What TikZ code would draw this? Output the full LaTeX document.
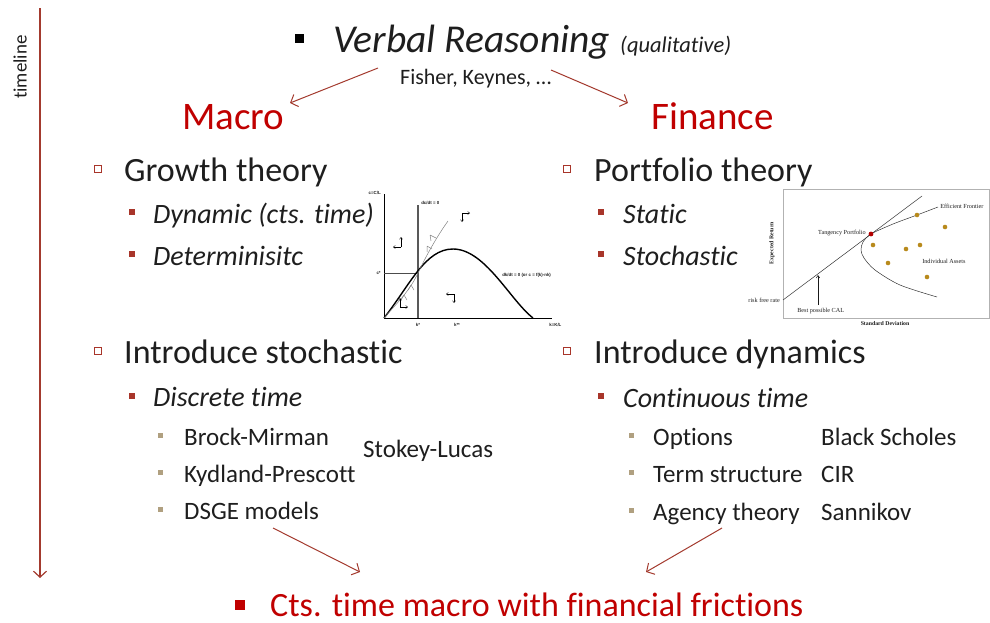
\documentclass[tikz,border=0pt]{standalone}
\usepackage{fontspec}
\setmainfont{Carlito}[Ligatures={NoCommon,NoContextual}]
\newfontfamily\serifgraph{Liberation Serif}
\newfontfamily\sansgraph{Liberation Sans}
\usetikzlibrary{arrows.meta}

\definecolor{headred}{HTML}{C00000}
\definecolor{arrred}{HTML}{A33A2E}
\definecolor{bulred}{HTML}{A8352A}
\definecolor{bultan}{HTML}{B0A080}
\definecolor{textgray}{HTML}{1E1E1E}
\definecolor{dotgold}{HTML}{B88A1C}

\newcommand{\fsz}[1]{\fontsize{#1}{#1}\selectfont}

\tikzset{
  every node/.style={inner sep=0pt, text=textgray},
  lone/.style={anchor=base west, font=\fsz{34}},
  ltwo/.style={anchor=base west, font=\fsz{28}\itshape},
  lthree/.style={anchor=base west, font=\fsz{25}},
  headtxt/.style={anchor=base west, font=\fsz{39}, text=headred},
  bulone/.style={draw=bulred, line width=1.2pt, minimum size=7pt},
  bultwo/.style={fill=bulred, minimum size=5.5pt},
  bulthree/.style={fill=bultan, minimum size=5pt},
  link/.style={draw=arrred, line width=1pt, -{Straight Barb[length=6pt,width=13pt]}},
  gtiny/.style={font=\sansgraph\bfseries\fsz{4.4}},
  gsmall/.style={font=\serifgraph\fsz{6.2}},
}

\begin{document}
\begin{tikzpicture}[x=1pt, y=-1pt]

\useasboundingbox (0,0) rectangle (990,622);

\coordinate (ttop) at (40,8);
\coordinate (tbot) at (40,578);
\draw[link, line width=1.2pt] (ttop) -- (tbot);
\node (timeline) at (20,67) [rotate=90, font=\fsz{19}] {timeline};

\node (verbbul) at (299,38) [fill=black, minimum size=9pt] {};
\node (verbal) at (333,52) [anchor=base west, font=\fsz{39.5}\itshape] {Verbal Reasoning};
\node (qual) at (620,52) [anchor=base west, font=\fsz{22.5}\itshape] {(qualitative)};
\node (fisher) at (400,84) [anchor=base west, font=\fsz{22}] {Fisher, Keynes, \dots};

\coordinate (fl) at (378,68);
\coordinate (fr) at (551,70);
\coordinate (macroin) at (290,103);
\coordinate (finin) at (628,103);
\draw[link] (fl) -- (macroin);
\draw[link] (fr) -- (finin);

\node (macro) at (182,129.5) [headtxt] {Macro};
\node (finance) at (651,129.5) [headtxt] {Finance};

\node (gb) at (98,169) [bulone] {};
\node (growth) at (124,181) [lone] {Growth theory};
\node (db) at (132,212) [bultwo] {};
\node (dynamic) at (153,223) [ltwo] {Dynamic (cts. time)};
\node (deb) at (132,254) [bultwo] {};
\node (determ) at (153,265) [ltwo] {Determinisitc};

\node (isb) at (98,351) [bulone] {};
\node (introstoch) at (124,363) [lone] {Introduce stochastic};
\node (dtb) at (132,396) [bultwo] {};
\node (discrete) at (153,406) [ltwo] {Discrete time};
\node (bmb) at (160,435) [bulthree] {};
\node (brock) at (184,445) [lthree] {Brock-Mirman};
\node (kpb) at (160,472) [bulthree] {};
\node (kydland) at (184,482) [lthree] {Kydland-Prescott};
\node (dsb) at (160,509) [bulthree] {};
\node (dsge) at (184,519) [lthree] {DSGE models};
\node (stokey) at (363,457) [lthree] {Stokey-Lucas};

\node (pb) at (567,169) [bulone] {};
\node (portfolio) at (594,181) [lone] {Portfolio theory};
\node (sb) at (601,212) [bultwo] {};
\node (static) at (623,223) [ltwo] {Static};
\node (stb) at (601,254) [bultwo] {};
\node (stoch) at (623,265) [ltwo] {Stochastic};

\node (idb) at (567,351) [bulone] {};
\node (introdyn) at (594,363) [lone] {Introduce dynamics};
\node (ctb) at (601,396) [bultwo] {};
\node (contin) at (623,407) [ltwo] {Continuous time};
\node (ob) at (631,435) [bulthree] {};
\node (options) at (653,445) [lthree] {Options};
\node (tsb) at (631,472) [bulthree] {};
\node (term) at (653,482) [lthree] {Term structure};
\node (ab) at (631,510) [bulthree] {};
\node (agency) at (653,520) [lthree] {Agency theory};
\node (black) at (821,445) [lthree] {Black Scholes};
\node (cir) at (821,482) [lthree] {CIR};
\node (sannikov) at (821,520) [lthree] {Sannikov};

\coordinate (ml) at (273,528);
\coordinate (mr) at (722,528);
\coordinate (cl) at (360,572);
\coordinate (cr) at (646,572);
\draw[link] (ml) -- (cl);
\draw[link] (mr) -- (cr);

\node (ctsb) at (240,605) [fill=headred, minimum size=10pt] {};
\node (cts) at (270,616) [anchor=base west, font=\fsz{34}, text=headred] {Cts. time macro with financial frictions};

\begin{scope}[line width=0.6pt]

\draw (384,194) -- (384,318) -- (552,318);

\draw[line width=1.2pt, gray!70!black] (418,205) -- (418,318);

\draw[gray!60!black] (384,273) -- (418,273);

\draw[line width=1.4pt] (384,318) .. controls (410,285) and (425,249) .. (453,249) .. controls (485,249) and (510,300) .. (533,318);

\draw[gray, line width=0.5pt] (384,318) .. controls (400,300) and (410,290) .. (418,273) .. controls (428,252) and (438,235) .. (448,221);

\draw[gray, line width=0.5pt] (430,235) -- (436,238) (430,235) -- (431,241);
\draw[gray, line width=0.5pt] (427,246) -- (432,249) (427,246) -- (427,252);
\draw[gray, line width=0.5pt] (404,295) -- (401,300) (404,295) -- (407,300);
\draw[gray, line width=0.5pt] (411,285) -- (408,290) (411,285) -- (414,290);

\draw[-{Straight Barb[length=2pt,width=3pt]}, line width=0.4pt] (401,247) -- (401,237);
\draw[-{Straight Barb[length=2pt,width=3pt]}, line width=0.4pt] (401,247) -- (393,247);
\draw[-{Straight Barb[length=2pt,width=3pt]}, line width=0.4pt] (462,213) -- (470,213);
\draw[-{Straight Barb[length=2pt,width=3pt]}, line width=0.4pt] (462,213) -- (462,222);
\draw[-{Straight Barb[length=2pt,width=3pt]}, line width=0.4pt] (454,294) -- (446,294);
\draw[-{Straight Barb[length=2pt,width=3pt]}, line width=0.4pt] (454,294) -- (454,303);
\draw[-{Straight Barb[length=2pt,width=3pt]}, line width=0.4pt] (400,307) -- (408,307);
\draw[-{Straight Barb[length=2pt,width=3pt]}, line width=0.4pt] (400,307) -- (400,298);

\node (cl1) at (381,193) [gtiny, anchor=east] {c=C/L};
\node (dcdt) at (421,203) [gtiny, anchor=west] {dc/dt = 0};
\node (cstar) at (381,273) [gtiny, anchor=east] {c*};
\node (kstar) at (418,325) [gtiny] {k*};
\node (kss) at (457,325) [gtiny] {k**};
\node (kkl) at (549,325) [gtiny, anchor=west] {k=K/L};
\node (dkdt) at (502,275) [gtiny, anchor=west] {dk/dt = 0 (or c = f(k)-nk)};

\end{scope}

\begin{scope}[line width=0.5pt]

\draw[gray!60] (783,189) rectangle (989,318);

\draw[gray!40!black] (783,300) -- (922,196);

\draw[gray!40!black] plot[smooth] coordinates {(938,207) (917,215) (893,224) (871,234) (863,242) (861,250) (864,258) (875,270) (900,285) (937,297)};

\foreach \px/\py in {917/215, 945/227, 873/245, 906/249, 920/245, 888/263, 927/277}
  \fill[dotgold] (\px,\py) circle (2.3pt);

\fill[red!70!black] (871,234) circle (2.4pt);

\coordinate (calfoot) at (818,305);
\coordinate (caltip) at (818,275);
\draw[-{Straight Barb[length=2.5pt,width=3.5pt]}, gray!20!black] (calfoot) -- (caltip);

\node (eret) at (772,243) [gsmall, font=\serifgraph\bfseries\fsz{5.8}, rotate=90] {Expected Return};
\node (sdev) at (885,324) [gsmall, font=\serifgraph\bfseries\fsz{5.8}] {Standard Deviation};
\node (tang) at (866,233) [gsmall, anchor=east] {Tangency Portfolio};
\node (effr) at (940,206) [gsmall, anchor=west] {Efficient Frontier};
\node (indiv) at (922,261) [gsmall, anchor=west] {Individual Assets};
\node (rfr) at (780,300) [gsmall, anchor=east] {risk free rate};
\node (bcal) at (797,311) [gsmall, anchor=west] {Best possible CAL};

\end{scope}

\end{tikzpicture}
\end{document}
